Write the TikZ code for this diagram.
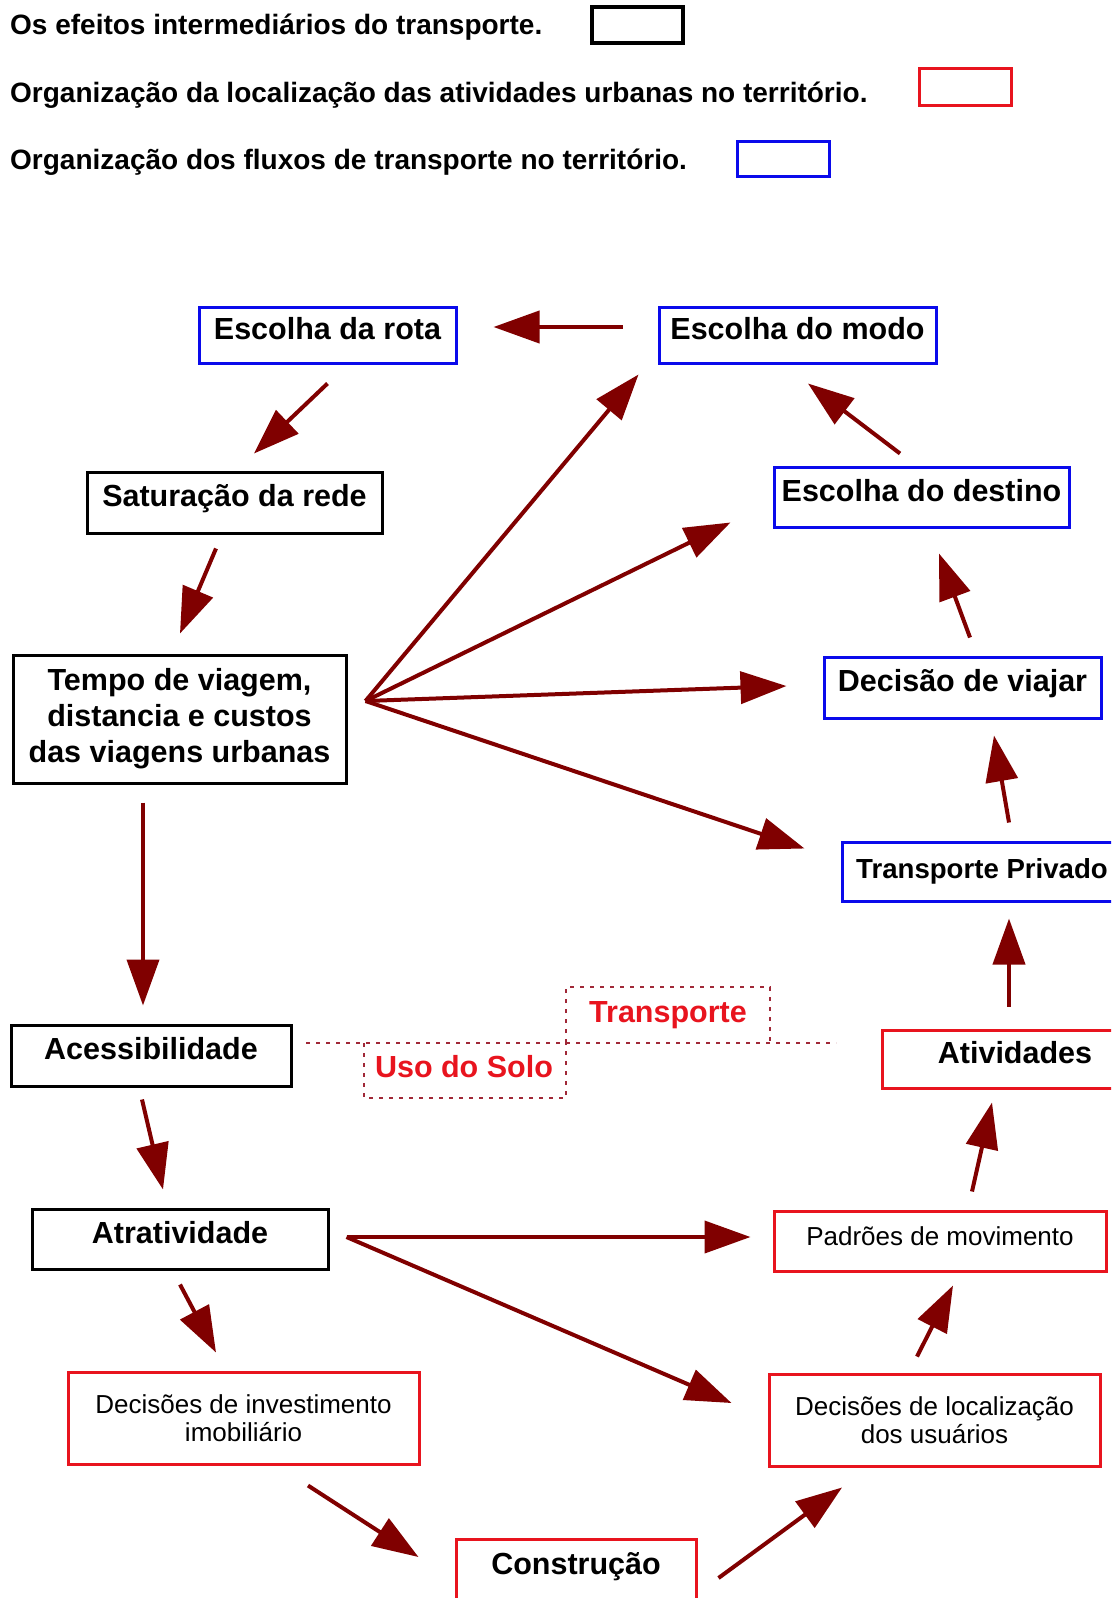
\documentclass[tikz,border=0pt]{standalone}
\usepackage{fontspec}
\setmainfont{Liberation Sans}
\usetikzlibrary{arrows.meta}
\definecolor{arrred}{RGB}{128,0,0}
\definecolor{boxblue}{RGB}{10,10,235}
\definecolor{boxred}{RGB}{232,20,30}
\definecolor{dotred}{RGB}{160,40,55}
\begin{document}
\begin{tikzpicture}[x=1pt,y=-1pt,
    box/.style={draw, line width=3pt, inner sep=0pt, align=center},
    big/.style={font=\bfseries\fontsize{30.5}{36}\selectfont},
    small/.style={font=\fontsize{26}{28.5}\selectfont},
    oneline/.style={text height=22pt, text depth=14pt},
    legtext/.style={anchor=base west, inner sep=0pt, font=\bfseries\fontsize{28}{30}\selectfont},
    lab/.style={big, oneline, text=boxred, inner sep=0pt},
    dotln/.style={draw=dotred, line width=2pt, dash pattern=on 4pt off 6pt},
    arr/.style={draw=arrred, line width=4pt, -{Triangle[length=46pt,width=32pt]}}]

    \useasboundingbox (0,0) rectangle (1111,1598);
    \clip (0,0) rectangle (1111,1598);

    \node[legtext] (leg1) at (10,34) {Os efeitos intermediários do transporte.};
    \node[legtext] (leg2) at (10,102) {Organização da localização das atividades urbanas no território.};
    \node[legtext] (leg3) at (10,169) {Organização dos fluxos de transporte no território.};
    \node[draw, line width=3.5pt, minimum width=91pt, minimum height=36pt] (legblack) at (637.5,25) {};
    \node[draw=boxred, line width=3pt, minimum width=92pt, minimum height=37pt] (legred) at (965,86.5) {};
    \node[draw=boxblue, line width=3pt, minimum width=92pt, minimum height=35pt] (legblue) at (783,158.5) {};

    \node[box, big, oneline, draw=boxblue, minimum width=257pt, minimum height=56pt] (rota) at (327.5,335) {Escolha da rota};
    \node[box, big, oneline, draw=boxblue, minimum width=277pt, minimum height=56pt] (modo) at (797.5,335) {Escolha do modo};
    \node[box, big, oneline, minimum width=295pt, minimum height=61pt] (satur) at (234.5,502.5) {Saturação da rede};
    \node[box, big, oneline, draw=boxblue, minimum width=295pt, minimum height=60pt] (destino) at (921.5,497) {Escolha do destino};
    \node[box, big, minimum width=333pt, minimum height=128pt] (tempo) at (179.5,719) {Tempo de viagem,\\distancia e custos\\das viagens urbanas};
    \node[box, big, oneline, draw=boxblue, minimum width=277pt, minimum height=61pt] (viajar) at (962.5,687.5) {Decisão de viajar};
    \node[box, draw=boxblue, font=\bfseries\fontsize{27.6}{32}\selectfont, text height=20pt, text depth=6pt, minimum width=280pt, minimum height=59pt] (privado) at (982,871.5) {Transporte Privado};
    \node[box, big, oneline, minimum width=280pt, minimum height=61pt] (acess) at (151,1055.5) {Acessibilidade};
    \node[box, big, oneline, draw=boxred, minimum width=266pt, minimum height=58pt] (ativid) at (1015,1059) {Atividades};
    \node[box, big, oneline, minimum width=296pt, minimum height=60pt] (atrat) at (180,1239) {Atratividade};
    \node[box, small, text height=19pt, text depth=10pt, draw=boxred, minimum width=332pt, minimum height=60pt] (padroes) at (940,1241) {Padrões de movimento};
    \node[box, small, draw=boxred, minimum width=351pt, minimum height=92pt] (invest) at (243.5,1418) {Decisões de investimento\\imobiliário};
    \node[box, small, draw=boxred, minimum width=331pt, minimum height=92pt] (local) at (934.5,1420) {Decisões de localização\\dos usuários};
    \node[box, big, oneline, draw=boxred, minimum width=240pt, minimum height=62pt] (constr) at (576,1570) {Construção};

    \draw[dotln] (306,1043) -- (836,1043);
    \draw[dotln] (566,1043) |- (770,987) -- (770,1043);
    \draw[dotln] (364,1043) |- (566,1098) -- (566,1043);
    \node[lab] (transp) at (668,1018) {Transporte};
    \node[lab] (solo) at (464,1073) {Uso do Solo};

    \coordinate (fan) at ([shift={(18,-18)}]tempo.east);

    \draw[arr] ([shift={(-35,-8)}]modo.west) -- ([shift={(36,-8)}]rota.east);
    \draw[arr] ([shift={(0,19)}]rota.south) -- ([shift={(19.5,-17)}]satur.north);
    \draw[arr] ([shift={(-18.5,14)}]satur.south) -- ([shift={(0.5,-20)}]tempo.north);
    \draw[arr] (fan) -- ([shift={(-19,10)}]modo.south west);
    \draw[arr] (fan) -- ([shift={(-42,-6)}]destino.south west);
    \draw[arr] (fan) -- ([shift={(-36,-1.5)}]viajar.west);
    \draw[arr] (fan) -- ([shift={(-36,8)}]privado.north west);
    \draw[arr] ([shift={(-21.5,-12)}]destino.north) -- ([shift={(10.5,19)}]modo.south);
    \draw[arr] ([shift={(7.5,-18)}]viajar.north) -- ([shift={(17.5,25)}]destino.south);
    \draw[arr] ([shift={(27,-18)}]privado.north) -- ([shift={(31.5,16)}]viajar.south);
    \draw[arr] ([shift={(-6,-22)}]ativid.north) -- ([shift={(27,16)}]privado.south);
    \draw[arr] ([shift={(-36.5,18)}]tempo.south) -- ([shift={(-8,-18)}]acess.north);
    \draw[arr] ([shift={(-9,12)}]acess.south) -- ([shift={(-17,-18)}]atrat.north);
    \draw[arr] ([shift={(17,-2)}]atrat.east) -- ([shift={(-22,-4)}]padroes.west);
    \draw[arr] ([shift={(17,-2)}]atrat.east) -- ([shift={(-36,-17)}]local.west);
    \draw[arr] ([shift={(0,14)}]atrat.south) -- ([shift={(-27.5,-18)}]invest.north);
    \draw[arr] ([shift={(32,-18)}]padroes.north) -- ([shift={(-23,13)}]ativid.south);
    \draw[arr] ([shift={(-17.5,-16)}]local.north) -- ([shift={(13,13)}]padroes.south);
    \draw[arr] ([shift={(64.5,20)}]invest.south) -- ([shift={(-36,-13)}]constr.west);
    \draw[arr] ([shift={(21,8)}]constr.east) -- ([shift={(-92.5,20)}]local.south);

\end{tikzpicture}
\end{document}
